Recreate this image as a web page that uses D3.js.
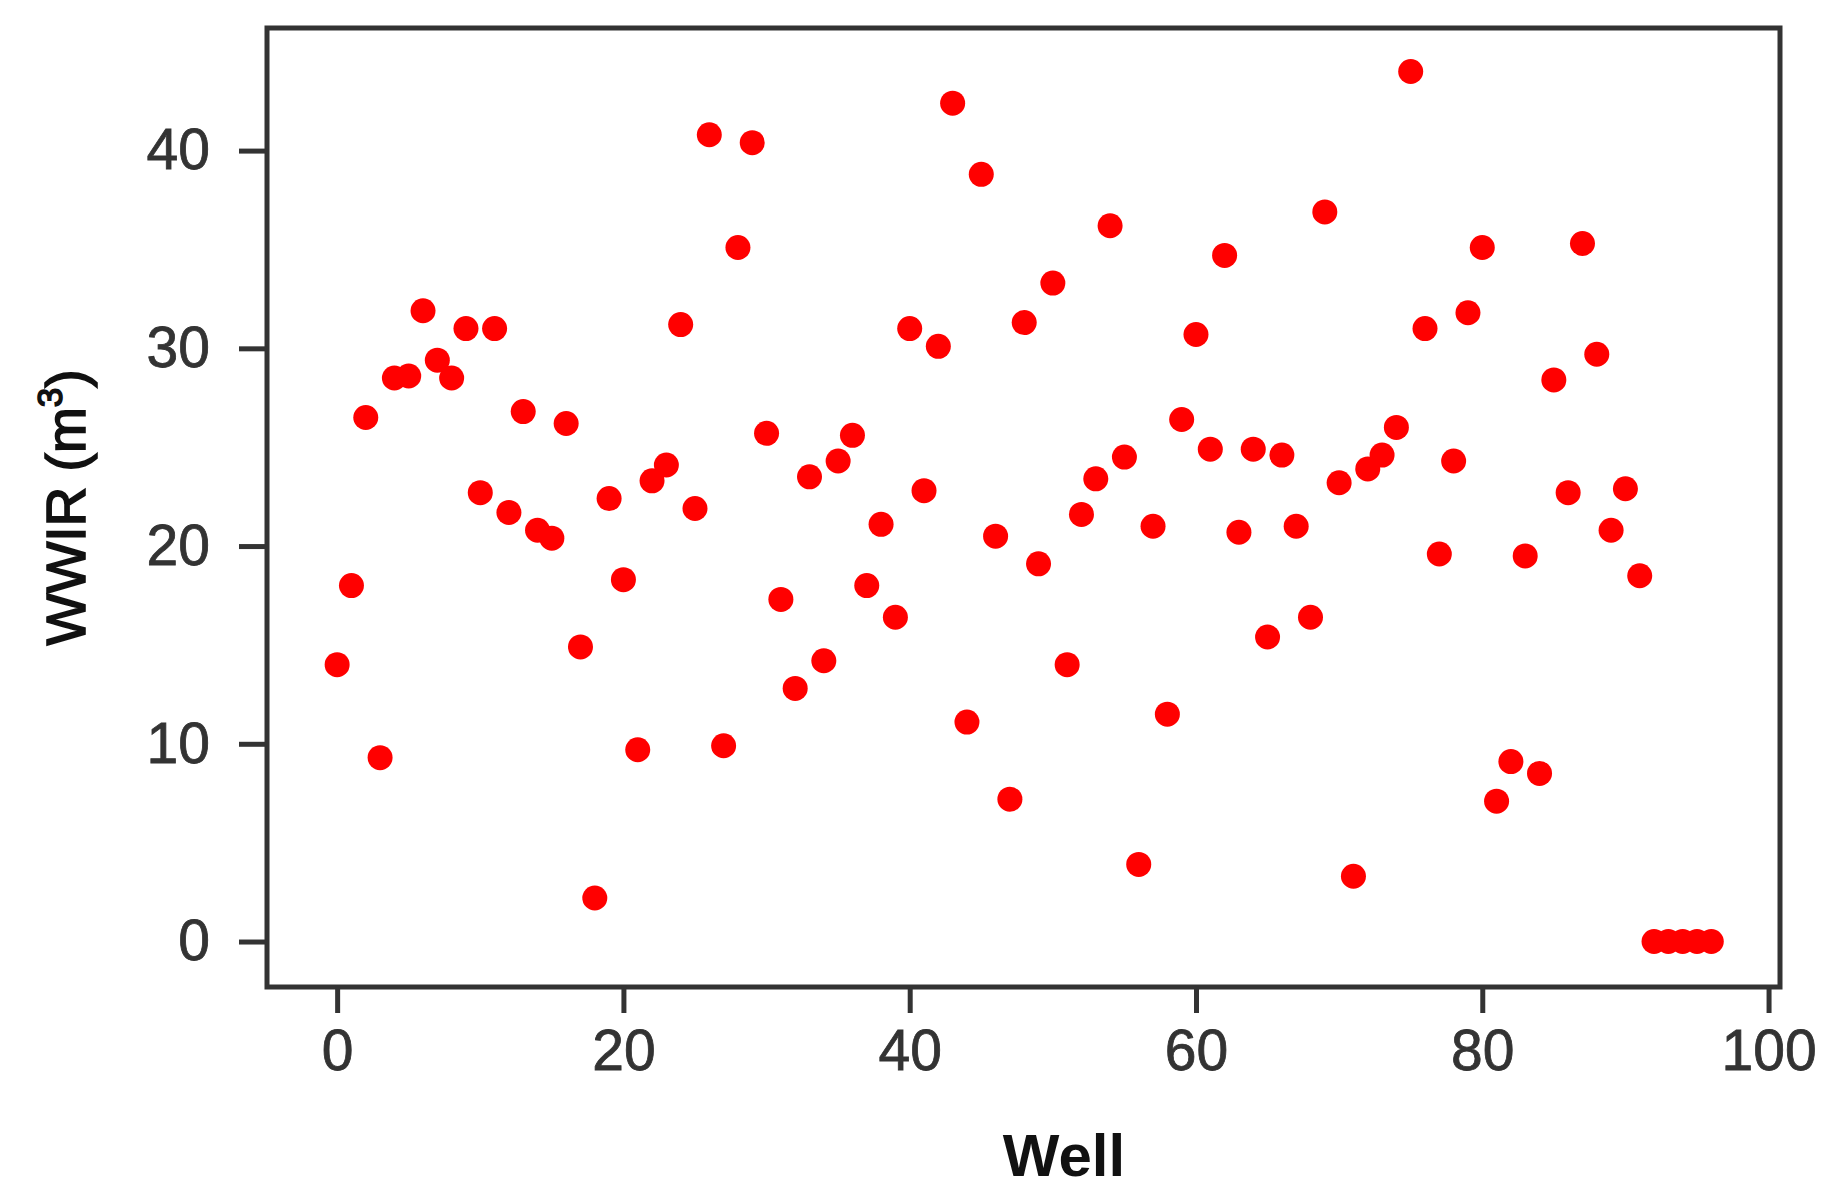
<!DOCTYPE html>
<html>
<head>
<meta charset="utf-8">
<script src="https://cdn.jsdelivr.net/npm/d3@7/dist/d3.min.js"></script>
<style>
  html, body { margin: 0; padding: 0; background: #fff; }
  svg { display: block; }
  .tick text { font-family: "Liberation Sans", Arial, Helvetica, sans-serif; }
</style>
</head>
<body>
<svg id="svg1" width="1837" height="1199"></svg>
<script>

// well numbers (x)
var wells = [0,1,2,3,4,5,6,7,8,9,10,11,12,13,14,15,16,17,18,19,
  20,21,22,23,24,25,26,27,28,29,30,31,32,33,34,35,36,37,38,39,
  40,41,42,43,44,45,46,47,48,49,50,51,52,53,54,55,56,57,58,59,
  60,61,62,63,64,65,66,67,68,69,70,71,72,73,74,75,76,77,78,79,
  80,81,82,83,84,85,86,87,88,89,90,91,92,93,94,95,96]

// WWIR (m3)
var wwir = [14.0,18.0,26.5,9.3,28.5,28.6,31.9,29.4,28.5,31.0,
  22.7,31.0,21.7,26.8,20.8,20.4,26.2,14.9,2.2,22.4,
  18.3,9.7,23.3,24.1,31.2,21.9,40.8,9.9,35.1,40.4,
  25.7,17.3,12.8,23.5,14.2,24.3,25.6,18.0,21.1,16.4,
  31.0,22.8,30.1,42.4,11.1,38.8,20.5,7.2,31.3,19.1,
  33.3,14.0,21.6,23.4,36.2,24.5,3.9,21.0,11.5,26.4,
  30.7,24.9,34.7,20.7,24.9,15.4,24.6,21.0,16.4,36.9,
  23.2,3.3,23.9,24.6,26.0,44.0,31.0,19.6,24.3,31.8,
  35.1,7.1,9.1,19.5,8.5,28.4,22.7,35.3,29.7,20.8,
  22.9,18.5,0,0,0,0,0]

var xTicks = [0,20,40,60,80,100]
var yTicks = [0,10,20,30,40]

var svg = d3.select("#svg1")

var box = {left:267, right:1780, top:28, bottom:987}
var ink = "#333"

var x = d3.scaleLinear()
    .domain([-4.9, 100.8])
    .range([box.left, box.right])

var y = d3.scaleLinear()
    .domain([-2.3, 46.2])
    .range([box.bottom, box.top])

// points first, frame on top
var data = wells.map(function(w, i){ return {well:w, v:wwir[i]} })

svg.append("g").selectAll("circle")
  .data(data)
  .enter().append("circle")
    .attr("cx", function(d){ return x(d.well) })
    .attr("cy", function(d){ return y(d.v) })
    .attr("r", 12.5)
    .style("fill", "#ff0000")

svg.append("rect")
    .attr("x", box.left)
    .attr("y", box.top)
    .attr("width", box.right - box.left)
    .attr("height", box.bottom - box.top)
    .style("fill", "none")
    .style("stroke", ink)
    .style("stroke-width", 5)

var xAxis = svg.append("g")
    .attr("transform", "translate(0," + box.bottom + ")")
    .call(d3.axisBottom(x).tickValues(xTicks).tickSize(26).tickPadding(17).tickFormat(d3.format("d")))

var yAxis = svg.append("g")
    .attr("transform", "translate(" + box.left + ",0)")
    .call(d3.axisLeft(y).tickValues(yTicks).tickSize(28).tickPadding(29).tickFormat(d3.format("d")))

svg.selectAll(".domain").remove()

svg.selectAll(".tick line")
    .style("stroke", ink)
    .style("stroke-width", 5)

svg.selectAll(".tick text")
    .style("fill", ink)
    .style("stroke", ink)
    .style("stroke-width", 0.8)
    .style("font-size", "57px")

// axis titles
svg.append("text")
    .attr("x", 1064)
    .attr("y", 1176)
    .attr("text-anchor", "middle")
    .style("font-family", "Liberation Sans, Arial, sans-serif")
    .style("font-size", "60px")
    .style("font-weight", "bold")
    .style("fill", "#111")
    .text("Well")

var ylab = svg.append("text")
    .attr("transform", "translate(85," + ((box.top + box.bottom) / 2) + ") rotate(-90)")
    .attr("text-anchor", "middle")
    .style("font-family", "Liberation Sans, Arial, sans-serif")
    .style("font-size", "55px")
    .style("fill", "#111")
    .style("stroke", "#111")
    .style("stroke-width", 1.6)

ylab.append("tspan").text("WWIR (m")
ylab.append("tspan").attr("dy", -23).style("font-size", "35px").text("3")
ylab.append("tspan").attr("dy", 23).text(")")

</script>
</body>
</html>
